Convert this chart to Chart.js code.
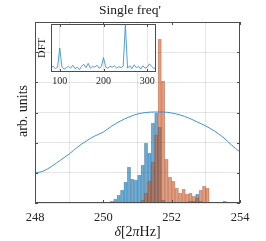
<!DOCTYPE html>
<html>
<head>
<meta charset="utf-8">
<script src="https://cdn.jsdelivr.net/npm/chart.js@4/dist/chart.umd.min.js"></script>
<style>
  html, body { margin: 0; padding: 0; background: #fff; }
  #wrap { position: relative; width: 266px; height: 241px; }
  #main { position: absolute; left: 0; top: 0; }
  #inset { position: absolute; left: 30px; top: 18px; }
</style>
</head>
<body>
<div id="wrap">
  <canvas id="main" width="266" height="241"></canvas>
  <canvas id="inset" width="135" height="72"></canvas>
</div>
<script>
// histogram bins (left edges start at 249.9, width 0.1)
const binStart = 249.9
const binWidth = 0.1
const blueCounts = [1, 1, 1, 2, 4, 8, 13, 21, 36, 24, 23, 28, 38, 60, 50, 80, 90, 76, 3, 0,
  0, 0, 0, 0, 0, 1, 2, 2, 9, 2, 0, 0, 0, 0, 0, 0, 0, 0]
const orangeCounts = [0, 0, 0, 0, 0, 0, 0, 0, 1, 0, 1, 1, 3, 10, 22, 41, 68, 164, 122, 44,
  26, 22, 15, 10, 14, 9, 10, 7, 5, 13, 17, 15, 0, 0, 0, 0, 2, 1]

// fringe curve
const curveX = [248, 248.25, 248.5, 248.75, 249, 249.25, 249.5, 249.75, 250, 250.25, 250.5, 250.75,
  251, 251.25, 251.5, 251.75, 252, 252.25, 252.5, 252.75, 253, 253.25, 253.5, 253.75, 254]
const curveY = [30, 32, 37, 43, 49, 56, 62, 67, 71, 77, 82, 86,
  89, 90.5, 91, 91, 90, 88, 85, 81, 77, 72, 66, 58, 51]

const mainXTicks = [248, 250, 252, 254]

// inset DFT
const dftX = [80, 85, 90, 95, 100, 105, 110, 115, 120, 125, 130, 135, 140, 145, 150, 155, 160, 165,
  170, 175, 180, 185, 190, 195, 200, 205, 210, 215, 220, 225, 230, 235, 240, 245, 250, 255, 260,
  265, 270, 275, 280, 285, 290, 295, 300, 305, 310, 315, 320]
const dftY = [0.08, 0.12, 0.07, 0.1, 0.5, 0.1, 0.06, 0.09, 0.12, 0.08, 0.14, 0.07, 0.1, 0.05, 0.12,
  0.16, 0.09, 0.18, 0.08, 0.12, 0.1, 0.14, 0.08, 0.11, 0.3, 0.1, 0.08, 0.12, 0.1, 0.13, 0.08,
  0.11, 0.09, 0.12, 0.98, 0.08, 0.13, 0.07, 0.15, 0.09, 0.12, 0.06, 0.13, 0.08, 0.1, 0.17, 0.12,
  0.07, 0.1]
const insetXTicks = [100, 200, 300]

const serif = '"Liberation Serif", "Times New Roman", serif'
const axisColor = '#4d4d4d'
const gridColor = 'rgba(0,0,0,0.1)'
const lineBlue = 'rgb(62,148,212)'

Chart.defaults.font.family = serif
Chart.defaults.color = '#262626'

const binCenters = blueCounts.map((_, i) => +(binStart + binWidth * (i + 0.5)).toFixed(2))

// box around plot area plus small inward ticks
const frame = {
  id: 'frame',
  afterDatasetsDraw(chart, args, opts) {
    const { ctx, chartArea: a, scales } = chart
    ctx.save()
    ctx.strokeStyle = axisColor
    ctx.lineWidth = 1
    ctx.beginPath()
    scales.x.ticks.forEach(t => {
      const px = Math.round(scales.x.getPixelForValue(t.value)) + 0.5
      ctx.moveTo(px, a.bottom); ctx.lineTo(px, a.bottom - 3)
      ctx.moveTo(px, a.top); ctx.lineTo(px, a.top + 3)
    })
    if (opts.yTicks) {
      scales.y.ticks.forEach(t => {
        const py = Math.round(scales.y.getPixelForValue(t.value)) + 0.5
        ctx.moveTo(a.left, py); ctx.lineTo(a.left + 3, py)
        ctx.moveTo(a.right, py); ctx.lineTo(a.right - 3, py)
      })
    }
    ctx.stroke()
    ctx.strokeRect(Math.round(a.left) + 0.5, Math.round(a.top) + 0.5,
      Math.round(a.width) - 1, Math.round(a.height) - 1)
    ctx.restore()
  }
}

// white background for the plot area (inset sits over the main axes)
const areaFill = {
  id: 'areaFill',
  beforeDraw(chart) {
    const { ctx, chartArea: a } = chart
    ctx.save()
    ctx.fillStyle = '#fff'
    ctx.fillRect(a.left, a.top, a.width, a.height)
    ctx.restore()
  }
}

function drawParts(ctx, parts, cx, cy, size) {
  let total = 0
  parts.forEach(p => {
    ctx.font = (p[1] ? 'italic ' : '') + size + 'px ' + serif
    total += ctx.measureText(p[0]).width
  })
  let x = cx - total / 2
  ctx.textAlign = 'left'
  parts.forEach(p => {
    ctx.font = (p[1] ? 'italic ' : '') + size + 'px ' + serif
    ctx.fillText(p[0], x, cy)
    x += ctx.measureText(p[0]).width
  })
}

const mainLabels = {
  id: 'mainLabels',
  afterDraw(chart) {
    const { ctx, chartArea: a } = chart
    ctx.save()
    ctx.fillStyle = '#1a1a1a'
    ctx.textBaseline = 'middle'
    ctx.textAlign = 'center'
    ctx.font = '13.5px ' + serif
    ctx.fillText("Single freq'", 130, 10)
    drawParts(ctx, [['δ', true], ['[2', false], ['π', true], ['Hz]', false]], (a.left + a.right) / 2, 232, 14)
    ctx.translate(23, 111)
    ctx.rotate(-Math.PI / 2)
    ctx.textAlign = 'center'
    ctx.font = '14px ' + serif
    ctx.fillText('arb. units', 0, 0)
    ctx.restore()
  }
}

const insetLabels = {
  id: 'insetLabels',
  afterDraw(chart) {
    const { ctx } = chart
    ctx.save()
    ctx.fillStyle = '#1a1a1a'
    ctx.textBaseline = 'middle'
    ctx.translate(12, 30)
    ctx.rotate(-Math.PI / 2)
    ctx.textAlign = 'center'
    ctx.font = '10.5px ' + serif
    ctx.fillText('DFT', 0, 0)
    ctx.restore()
  }
}

new Chart(document.getElementById('main'), {
  type: 'bar',
  data: {
    datasets: [
      {
        type: 'line',
        data: curveX.map((x, i) => ({ x, y: curveY[i] })),
        borderColor: lineBlue,
        borderWidth: 1,
        pointRadius: 0,
        cubicInterpolationMode: 'monotone',
        order: 0
      },
      {
        data: binCenters.map((x, i) => ({ x, y: orangeCounts[i] })),
        backgroundColor: 'rgba(217,83,25,0.58)',
        borderColor: 'rgba(40,40,40,0.28)',
        borderWidth: 0.5,
        grouped: false,
        barPercentage: 1,
        categoryPercentage: 1,
        order: 1
      },
      {
        data: binCenters.map((x, i) => ({ x, y: blueCounts[i] })),
        backgroundColor: 'rgba(0,114,189,0.58)',
        borderColor: 'rgba(40,40,40,0.28)',
        borderWidth: 0.5,
        grouped: false,
        barPercentage: 1,
        categoryPercentage: 1,
        order: 2
      }
    ]
  },
  options: {
    responsive: false,
    animation: false,
    layout: { padding: { left: 0, top: 22, right: 26, bottom: 0 } },
    plugins: {
      legend: { display: false },
      tooltip: { enabled: false },
      frame: { yTicks: true }
    },
    scales: {
      x: {
        type: 'linear',
        min: 248,
        max: 254,
        offset: false,
        afterBuildTicks: (s) => { s.ticks = mainXTicks.map(v => ({ value: v })) },
        afterFit: (s) => { s.height = 38 },
        ticks: { font: { size: 12.5 }, padding: 7, color: '#262626', maxRotation: 0 },
        grid: { color: gridColor, drawTicks: false },
        border: { display: false }
      },
      y: {
        min: 0,
        max: 181,
        afterFit: (s) => { s.width = 35 },
        ticks: { display: false, stepSize: 181 / 6 },
        grid: { color: gridColor, drawTicks: false },
        border: { display: false }
      }
    }
  },
  plugins: [frame, mainLabels]
})

new Chart(document.getElementById('inset'), {
  type: 'line',
  data: {
    datasets: [{
      data: dftX.map((x, i) => ({ x, y: dftY[i] })),
      borderColor: lineBlue,
      borderWidth: 0.9,
      pointRadius: 0
    }]
  },
  options: {
    responsive: false,
    animation: false,
    layout: { padding: { left: 0, top: 6, right: 9, bottom: 0 } },
    plugins: {
      legend: { display: false },
      tooltip: { enabled: false },
      frame: { yTicks: false }
    },
    scales: {
      x: {
        type: 'linear',
        min: 80,
        max: 320,
        afterBuildTicks: (s) => { s.ticks = insetXTicks.map(v => ({ value: v })) },
        afterFit: (s) => { s.height = 18 },
        ticks: { font: { size: 10 }, padding: 3, color: '#262626', maxRotation: 0 },
        grid: { color: gridColor, drawTicks: false },
        border: { display: false }
      },
      y: {
        min: 0,
        max: 1,
        afterFit: (s) => { s.width = 21 },
        ticks: { display: false },
        grid: { display: false },
        border: { display: false }
      }
    }
  },
  plugins: [areaFill, frame, insetLabels]
})
</script>
</body>
</html>
